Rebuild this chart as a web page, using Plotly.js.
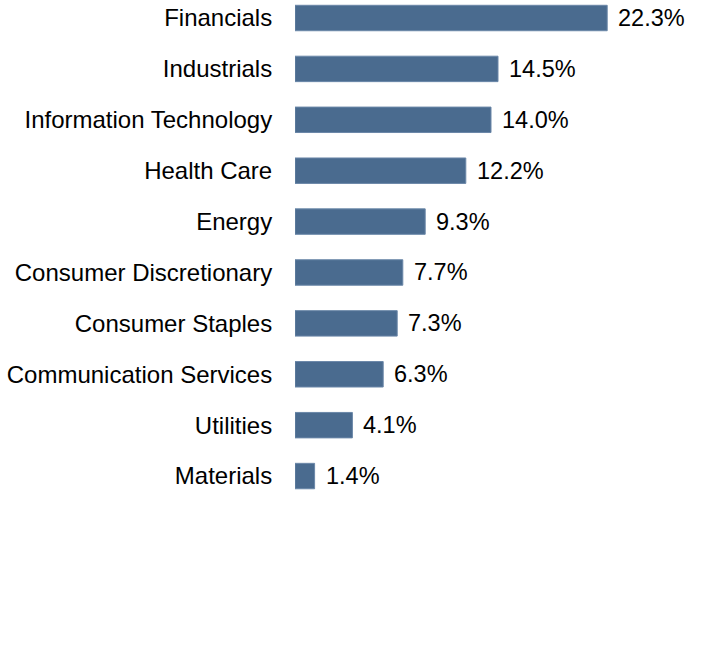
<!DOCTYPE html>
<html>
<head>
<meta charset="utf-8">
<script src="https://cdn.plot.ly/plotly-3.0.1.min.js"></script>
<style>
  body { margin: 0; background: #fff; }
  #chart { width: 720px; height: 672px; }
</style>
</head>
<body>
<div id="chart"></div>
<script>
// sector weights, %
const sectors = [
  "Financials", "Industrials", "Information Technology", "Health Care", "Energy",
  "Consumer Discretionary", "Consumer Staples", "Communication Services", "Utilities", "Materials"
];
const weights = [22.3, 14.5, 14.0, 12.2, 9.3, 7.7, 7.3, 6.3, 4.1, 1.4];

const barColor = '#4a6b8f';
const fontFam = 'Liberation Sans, Arial, sans-serif';

var data = [{
  type: 'bar',
  orientation: 'h',
  x: weights,
  y: sectors,
  width: 0.5,
  marker: { color: barColor, line: { color: '#6a87a8', width: 1 } },
  hoverinfo: 'none'
}];

// value labels just right of each bar
var annotations = sectors.map(function (s, i) {
  return {
    x: weights[i], y: s, xref: 'x', yref: 'y',
    text: weights[i].toFixed(1) + '%',
    showarrow: false, xanchor: 'left', xshift: 9,
    font: { family: fontFam, size: 23.5, color: '#000' }
  };
});

var layout = {
  width: 720,
  height: 672,
  margin: { l: 295, r: 5, t: 0, b: 0, pad: 0 },
  paper_bgcolor: '#fff',
  plot_bgcolor: '#fff',
  showlegend: false,
  font: { family: fontFam, size: 23, color: '#000' },
  xaxis: {
    range: [0, 30],
    showgrid: false, zeroline: false, showline: false, showticklabels: false, ticks: ''
  },
  yaxis: {
    type: 'category',
    range: [12.85, -0.354],
    showgrid: false, zeroline: false, showline: false,
    ticks: 'outside', ticklen: 17, tickcolor: 'rgba(0,0,0,0)',
    tickfont: { family: fontFam, size: 24, color: '#000' }
  },
  annotations: annotations
};

var config = { staticPlot: true, displayModeBar: false };

Plotly.newPlot('chart', data, layout, config);
</script>
</body>
</html>
